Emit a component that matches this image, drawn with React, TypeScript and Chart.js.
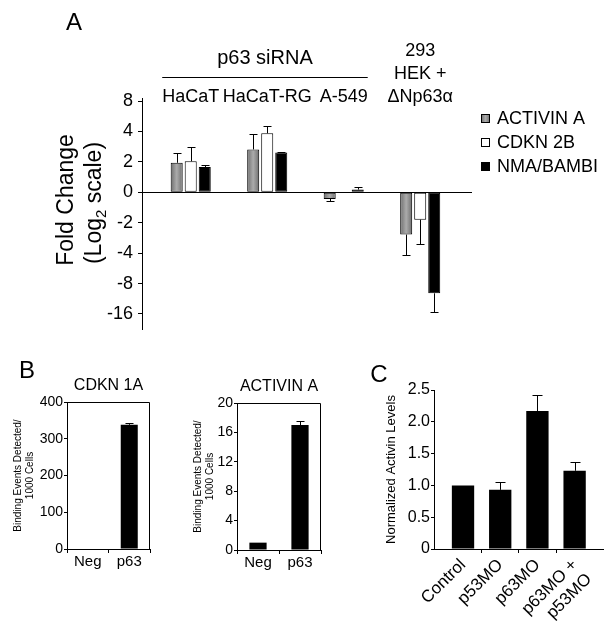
import React, { useEffect, useRef } from 'react';
import { Chart, registerables } from 'chart.js';

Chart.register(...registerables);

const FONT = '"Liberation Sans", Arial, Helvetica, sans-serif';
Chart.defaults.font.family = FONT;
Chart.defaults.color = '#000';

// ---------- Panel A (values in log2 units of fold change) ----------
const aCategories: (string | string[])[] = ['HaCaT', 'HaCaT-RG', 'A-549', ['293', 'HEK +', 'ΔNp63α']];
const aGroupLabel = 'p63 siRNA';
const aSeriesNames = ['ACTIVIN A', 'CDKN 2B', 'NMA/BAMBI'];
const aActivin = [0.97, 1.41, -0.22, -1.39];
const aActivinErr = [0.31, 0.5, 0.06, 0.66];
const aCdkn2b: (number | null)[] = [1.02, 1.94, null, -0.9];
const aCdkn2bErr = [0.46, 0.23, 0, 0.81];
const aBambi = [0.83, 1.31, 0.09, -3.32];
const aBambiErr = [0.06, 0.03, 0.07, 0.6];
const aTickValues = [-4, -3, -2, -1, 0, 1, 2, 3];
const aTickLabels = ['-16', '-8', '-4', '-2', '0', '2', '4', '8'];
const aAxisTitle1 = 'Fold Change';
const aAxisTitle2 = ['(Log', '2', ' scale)'];

// ---------- Panel B ----------
const bCategories = ['Neg', 'p63'];
const bAxisTitle = ['Binding Events Detected/', '1000 Cells'];
const b1Title = 'CDKN 1A';
const b1Values = [0, 338];
const b1Err = [0, 4];
const b1Ticks = [0, 100, 200, 300, 400];
const b2Title = 'ACTIVIN A';
const b2Values = [1.0, 17.0];
const b2Err = [0, 0.6];
const b2Ticks = [0, 4, 8, 12, 16, 20];

// ---------- Panel C ----------
const cCategories: (string | string[])[] = ['Control', 'p53MO', 'p63MO', ['p63MO +', 'p53MO']];
const cValues = [1.0, 0.93, 2.17, 1.23];
const cErr = [0, 0.13, 0.25, 0.14];
const cTickValues = [0, 0.5, 1, 1.5, 2, 2.5];
const cTickLabels = ['0', '0.5', '1.0', '1.5', '2.0', '2.5'];
const cAxisTitle = 'Normalized Activin Levels';

const panelLetters = [
  { text: 'A', x: 74, y: 22 },
  { text: 'B', x: 27, y: 370 },
  { text: 'C', x: 379, y: 374 },
];

// shaded gray fill (darker edges, lighter centre) across a bar's width
function grayShade(ctx: CanvasRenderingContext2D, x0: number, x1: number) {
  const g = ctx.createLinearGradient(x0, 0, x1, 0);
  g.addColorStop(0, '#6e6e6e');
  g.addColorStop(0.5, '#ababab');
  g.addColorStop(1, '#6e6e6e');
  return g;
}

// ---------- plugins ----------
const errorBarPlugin = {
  id: 'errBars',
  afterDatasetsDraw(chart: any) {
    const ctx = chart.ctx;
    const ys = chart.scales.y;
    chart.data.datasets.forEach((ds: any, di: number) => {
      const errs = ds.errs;
      if (!errs) return;
      const meta = chart.getDatasetMeta(di);
      meta.data.forEach((el: any, j: number) => {
        const raw = ds.data[j];
        const v = raw !== null && typeof raw === 'object' ? raw.y : raw;
        const e = errs[j];
        if (v === null || v === undefined || !e) return;
        const dir = v >= 0 ? 1 : -1;
        const yEnd = Math.round(ys.getPixelForValue(v + dir * e)) + 0.5;
        const x = Math.round(el.x) + 0.5;
        const half = ds.capHalf || 4;
        ctx.save();
        ctx.strokeStyle = '#000';
        ctx.lineWidth = 1;
        ctx.beginPath();
        ctx.moveTo(x, el.y);
        ctx.lineTo(x, yEnd);
        ctx.moveTo(x - half, yEnd);
        ctx.lineTo(x + half, yEnd);
        ctx.stroke();
        ctx.restore();
      });
    });
  },
};

const framePlugin = {
  id: 'frame',
  afterDraw(chart: any) {
    const { ctx, chartArea: ca } = chart;
    ctx.save();
    ctx.strokeStyle = '#000';
    ctx.lineWidth = 1;
    const t = Math.round(ca.top) + 0.5;
    const r = Math.round(ca.right) - 0.5;
    ctx.beginPath();
    ctx.moveTo(ca.left, t);
    ctx.lineTo(r, t);
    ctx.lineTo(r, ca.bottom);
    ctx.stroke();
    ctx.restore();
  },
};

function titlePlugin(text: string) {
  return {
    id: 'panelTitle',
    afterDraw(chart: any) {
      const { ctx, chartArea: ca } = chart;
      ctx.save();
      ctx.fillStyle = '#000';
      ctx.font = `16px ${FONT}`;
      ctx.textAlign = 'center';
      ctx.textBaseline = 'middle';
      ctx.fillText(text, (ca.left + ca.right) / 2, ca.top - 16);
      ctx.restore();
    },
  };
}

const aDecorPlugin = {
  id: 'aDecor',
  afterDraw(chart: any) {
    const { ctx, chartArea: ca } = chart;
    const xs = chart.scales.x;
    ctx.save();
    ctx.fillStyle = '#000';
    ctx.strokeStyle = '#000';
    ctx.textAlign = 'center';
    ctx.textBaseline = 'middle';
    ctx.font = `18px ${FONT}`;
    const lh = 23;
    aCategories.forEach((cat, i) => {
      const lines = Array.isArray(cat) ? cat : [cat];
      const cx = xs.getPixelForValue(i);
      lines.forEach((ln, k) => ctx.fillText(ln, cx, ca.top - 1 - (lines.length - 1 - k) * lh));
    });
    const l0 = xs.getPixelForValue(0) - ctx.measureText(aCategories[0] as string).width / 2;
    const l2 = xs.getPixelForValue(2) + ctx.measureText(aCategories[2] as string).width / 2;
    ctx.lineWidth = 1;
    ctx.beginPath();
    ctx.moveTo(l0, Math.round(ca.top - 21) + 0.5);
    ctx.lineTo(l2, Math.round(ca.top - 21) + 0.5);
    ctx.stroke();
    ctx.font = `20px ${FONT}`;
    ctx.fillText(aGroupLabel, (l0 + l2) / 2, ca.top - 40);

    // legend
    ctx.font = `18px ${FONT}`;
    ctx.textAlign = 'left';
    chart.data.datasets.forEach((ds: any, i: number) => {
      const yy = Math.round(ca.top + 20 + i * 24);
      const bx = Math.round(ca.right + 9);
      ctx.fillStyle = ds.legendFill === 'shade' ? grayShade(ctx, bx, bx + 9) : ds.legendFill;
      ctx.fillRect(bx, yy - 4, 9, 9);
      ctx.strokeRect(bx + 0.5, yy - 3.5, 8, 8);
      ctx.fillStyle = '#000';
      ctx.fillText(ds.label, bx + 16, yy + 1);
    });

    // y title
    ctx.textAlign = 'center';
    ctx.save();
    ctx.translate(67, 200);
    ctx.rotate(-Math.PI / 2);
    ctx.font = `23px ${FONT}`;
    ctx.fillText(aAxisTitle1, 0, 0);
    ctx.restore();

    ctx.save();
    ctx.translate(95, 203);
    ctx.rotate(-Math.PI / 2);
    ctx.textAlign = 'left';
    const big = `23px ${FONT}`;
    const small = `15px ${FONT}`;
    ctx.font = big;
    const w1 = ctx.measureText(aAxisTitle2[0]).width;
    const w3 = ctx.measureText(aAxisTitle2[2]).width;
    ctx.font = small;
    const w2 = ctx.measureText(aAxisTitle2[1]).width;
    let sx = -(w1 + w2 + w3) / 2;
    ctx.font = big;
    ctx.fillText(aAxisTitle2[0], sx, 0);
    sx += w1;
    ctx.font = small;
    ctx.fillText(aAxisTitle2[1], sx, 7);
    sx += w2;
    ctx.font = big;
    ctx.fillText(aAxisTitle2[2], sx, 0);
    ctx.restore();

    ctx.restore();
  },
};

// ---------- chart configs ----------
function shadedBar(c: any) {
  const el = c.element;
  if (!el || typeof el.x !== 'number' || isNaN(el.x) || !el.width) return '#8c8c8c';
  return grayShade(c.chart.ctx, el.x - el.width / 2, el.x + el.width / 2);
}

function makeA(): any {
  const series = [
    { label: aSeriesNames[0], data: aActivin as (number | null)[], errs: aActivinErr, bg: shadedBar as any, legend: 'shade' },
    { label: aSeriesNames[1], data: aCdkn2b, errs: aCdkn2bErr, bg: '#ffffff', legend: '#ffffff' },
    { label: aSeriesNames[2], data: aBambi as (number | null)[], errs: aBambiErr, bg: '#000000', legend: '#000000' },
  ];
  return {
    type: 'bar',
    data: {
      datasets: series.map((s) => ({
        label: s.label,
        data: s.data.map((v, i) => ({ x: i, y: v })),
        errs: s.errs,
        capHalf: 4,
        legendFill: s.legend,
        backgroundColor: s.bg,
        borderColor: '#000',
        borderWidth: 1,
        borderSkipped: false,
        categoryPercentage: 0.55,
        barPercentage: 0.857,
      })),
    },
    options: {
      responsive: false,
      animation: false,
      events: [],
      layout: { padding: { left: 0, top: 98, right: 140, bottom: 7 } },
      plugins: { legend: { display: false }, tooltip: { enabled: false } },
      scales: {
        x: {
          type: 'linear',
          offset: false,
          display: false,
          min: -0.637,
          max: 3.677,
          grid: { offset: false },
          afterBuildTicks: (ax: any) => {
            ax.ticks = aCategories.map((_, i) => ({ value: i }));
          },
        },
        y: {
          min: -4.5,
          max: 3.1,
          afterBuildTicks: (ax: any) => {
            ax.ticks = aTickValues.map((v) => ({ value: v }));
          },
          afterFit: (ax: any) => {
            ax.width = 142;
          },
          border: { display: true, color: '#000', width: 1 },
          grid: {
            drawOnChartArea: true,
            color: (c: any) => (c.tick && c.tick.value === 0 ? '#000' : 'rgba(0,0,0,0)'),
            tickColor: '#000',
            tickLength: 4,
            lineWidth: 1,
          },
          ticks: {
            color: '#000',
            font: { family: FONT, size: 18 },
            padding: 5,
            callback: (_v: any, i: number) => aTickLabels[i],
          },
        },
      },
    },
    plugins: [errorBarPlugin, aDecorPlugin],
  };
}

function makeB(
  title: string,
  values: number[],
  errs: number[],
  ticks: number[],
  yWidth: number,
  padRight: number,
  padTop: number,
  xHeight: number,
  titlePad: number
): any {
  return {
    type: 'bar',
    data: {
      labels: bCategories,
      datasets: [
        {
          data: values,
          errs,
          capHalf: 4,
          backgroundColor: '#000',
          borderWidth: 0,
          categoryPercentage: 1,
          barPercentage: 0.41,
        },
      ],
    },
    options: {
      responsive: false,
      animation: false,
      events: [],
      layout: { padding: { left: 0, right: padRight, top: padTop, bottom: 0 } },
      plugins: { legend: { display: false }, tooltip: { enabled: false } },
      scales: {
        x: {
          grid: { display: true, drawOnChartArea: false, offset: true, tickColor: '#000', tickLength: 4 },
          border: { color: '#000' },
          ticks: { color: '#000', font: { family: FONT, size: 15 }, padding: 0 },
          afterFit: (ax: any) => {
            ax.height = xHeight;
          },
        },
        y: {
          min: 0,
          max: ticks[ticks.length - 1],
          afterBuildTicks: (ax: any) => {
            ax.ticks = ticks.map((v) => ({ value: v }));
          },
          afterFit: (ax: any) => {
            ax.width = yWidth;
          },
          grid: { drawOnChartArea: false, tickColor: '#000', tickLength: 3 },
          border: { color: '#000' },
          ticks: { color: '#000', font: { family: FONT, size: 14 }, padding: 1 },
          title: {
            display: true,
            text: bAxisTitle,
            color: '#000',
            font: { family: FONT, size: 10 },
            padding: { top: titlePad, bottom: 0 },
          },
        },
      },
    },
    plugins: [errorBarPlugin, framePlugin, titlePlugin(title)],
  };
}

function makeC(): any {
  return {
    type: 'bar',
    data: {
      datasets: [
        {
          data: cValues.map((v, i) => ({ x: i, y: v })),
          errs: cErr,
          capHalf: 5,
          backgroundColor: '#000',
          borderWidth: 0,
          categoryPercentage: 1,
          barPercentage: 0.6,
        },
      ],
    },
    options: {
      responsive: false,
      animation: false,
      events: [],
      layout: { padding: { left: 0, right: 9, top: 30, bottom: 0 } },
      plugins: { legend: { display: false }, tooltip: { enabled: false } },
      scales: {
        x: {
          type: 'linear',
          offset: false,
          min: -0.78,
          max: 3.763,
          afterBuildTicks: (ax: any) => {
            ax.ticks = cCategories.map((_, i) => ({ value: i }));
          },
          afterFit: (ax: any) => {
            ax.height = 78;
          },
          grid: {
            drawOnChartArea: false,
            offset: true,
            tickLength: 4,
            tickColor: (c: any) => (c.type === 'tick' && c.index > 0 ? '#000' : 'rgba(0,0,0,0)'),
          },
          border: { color: '#000' },
          ticks: {
            autoSkip: false,
            minRotation: 45,
            maxRotation: 45,
            color: '#000',
            font: { family: FONT, size: 17 },
            padding: 2,
            callback: (_v: any, i: number) => cCategories[i],
          },
        },
        y: {
          min: 0,
          max: 2.5,
          afterBuildTicks: (ax: any) => {
            ax.ticks = cTickValues.map((v) => ({ value: v }));
          },
          afterFit: (ax: any) => {
            ax.width = 104;
          },
          grid: { drawOnChartArea: false, tickColor: '#000', tickLength: 3 },
          border: { color: '#000' },
          ticks: {
            color: '#000',
            font: { family: FONT, size: 16 },
            padding: 1,
            callback: (_v: any, i: number) => cTickLabels[i],
          },
          title: {
            display: true,
            text: cAxisTitle,
            color: '#000',
            font: { family: FONT, size: 13 },
            padding: { top: 54, bottom: 0 },
          },
        },
      },
    },
    plugins: [errorBarPlugin],
  };
}

function ChartBox(props: { left: number; top: number; width: number; height: number; make: () => any }) {
  const ref = useRef<HTMLCanvasElement>(null);
  useEffect(() => {
    const chart = new Chart(ref.current as HTMLCanvasElement, props.make());
    // second pass so that scriptable fills can use the laid-out bar geometry
    chart.update('none');
    return () => chart.destroy();
  }, []);
  return (
    <canvas
      ref={ref}
      width={props.width}
      height={props.height}
      style={{ position: 'absolute', left: props.left, top: props.top, width: props.width, height: props.height }}
    />
  );
}

export default function App() {
  return (
    <div style={{ position: 'absolute', left: 0, top: 0, width: 612, height: 627, background: '#fff', overflow: 'hidden' }}>
      <ChartBox left={0} top={0} width={612} height={345} make={makeA} />
      <ChartBox
        left={0}
        top={360}
        width={160}
        height={220}
        make={() => makeB(b1Title, b1Values, b1Err, b1Ticks, 67, 10, 42, 31, 12)}
      />
      <ChartBox
        left={160}
        top={360}
        width={170}
        height={220}
        make={() => makeB(b2Title, b2Values, b2Err, b2Ticks, 77, 9, 43, 30, 32)}
      />
      <ChartBox left={330} top={360} width={282} height={267} make={makeC} />
      {panelLetters.map((p) => (
        <div
          key={p.text}
          style={{
            position: 'absolute',
            left: p.x,
            top: p.y,
            transform: 'translate(-50%, -50%)',
            fontFamily: FONT,
            fontSize: 24,
            lineHeight: 1,
            color: '#000',
          }}
        >
          {p.text}
        </div>
      ))}
    </div>
  );
}
